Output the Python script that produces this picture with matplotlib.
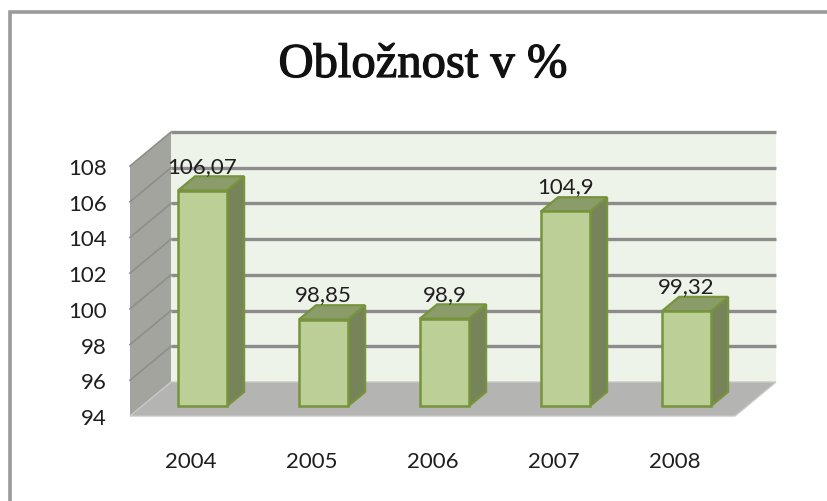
import matplotlib
matplotlib.use("Agg")
import matplotlib.pyplot as plt
from matplotlib.patches import Rectangle, Polygon
import matplotlib.patheffects as pe

# ---- data ----
years = ["2004", "2005", "2006", "2007", "2008"]
values = [106.07, 98.85, 98.9, 104.9, 99.32]
y_ticks = [94, 96, 98, 100, 102, 104, 106, 108]
title = "Obložnost v %"

W, H = 827, 502
fig = plt.figure(figsize=(W / 100, H / 100), dpi=100)
fig.patch.set_facecolor("white")

# outer frame (only left/top visible)
fig.patches.append(Rectangle((10 / W, -0.1), 1.2, (H - 13) / H + 0.1,
                             transform=fig.transFigure, fill=False,
                             edgecolor="#9a9a9a", linewidth=2.6))

fig.text(423 / W, (H - 78) / H, title, ha="center", va="baseline",
         fontsize=35, family=["Liberation Serif", "DejaVu Serif"], color="#111111",
         path_effects=[pe.withStroke(linewidth=0.9, foreground="#111111")])

# front plane of the 3D box
ax = fig.add_axes([130 / W, 85 / H, 605 / W, 250 / H])
ymin, ymax = y_ticks[0], y_ticks[-1]
ax.set_xlim(-0.5, len(years) - 0.5)
ax.set_ylim(ymin, ymax)
for s in ax.spines.values():
    s.set_visible(False)
ax.patch.set_visible(False)

# depth vector in data units
px_x = 605 / len(years)
px_y = 250 / (ymax - ymin)
DX = 41 / px_x
DY = 34 / px_y
x0, x1 = -0.5, len(years) - 0.5

def poly(pts, fc, ec="none", lw=0, z=1):
    p = Polygon(pts, closed=True, facecolor=fc, edgecolor=ec, linewidth=lw,
                zorder=z, clip_on=False, joinstyle="miter")
    ax.add_patch(p)

# back wall
poly([(x0 + DX, ymin + DY), (x1 + DX, ymin + DY), (x1 + DX, ymax + DY), (x0 + DX, ymax + DY)],
     "#eef3ea", z=1)
# left wall
poly([(x0, ymin), (x0 + DX, ymin + DY), (x0 + DX, ymax + DY), (x0, ymax)], "#a4a49f", z=1)
# floor
poly([(x0, ymin), (x1, ymin), (x1 + DX, ymin + DY), (x0 + DX, ymin + DY)], "#b4b4b2",
     ec="#c8c8c6", lw=1.0, z=2)

# gridlines
for v in y_ticks[1:]:
    ax.plot([x0 + DX, x1 + DX], [v + DY, v + DY], color="#8c8c8c", lw=2.4,
            zorder=1.5, clip_on=False, solid_capstyle="butt")
    ax.plot([x0, x0 + DX], [v, v + DY], color="#8e8e8a", lw=1.2,
            zorder=1.5, clip_on=False)

# 3D bars
f0, f1 = 0.29, 0.71
w = 49 / px_x
edge = "#77933c"
lab_font = ["Lato", "DejaVu Sans"]
for i, v in enumerate(values):
    l = i - w / 2
    r = i + w / 2
    # side face
    poly([(r + f0 * DX, ymin + f0 * DY), (r + f1 * DX, ymin + f1 * DY),
          (r + f1 * DX, v + f1 * DY), (r + f0 * DX, v + f0 * DY)],
         "#77845a", ec=edge, lw=1.6, z=3)
    # top face
    poly([(l + f0 * DX, v + f0 * DY), (r + f0 * DX, v + f0 * DY),
          (r + f1 * DX, v + f1 * DY), (l + f1 * DX, v + f1 * DY)],
         "#8a9c6a", ec=edge, lw=1.6, z=3)
    # front face
    poly([(l + f0 * DX, ymin + f0 * DY), (r + f0 * DX, ymin + f0 * DY),
          (r + f0 * DX, v + f0 * DY), (l + f0 * DX, v + f0 * DY)],
         "#bbcf97", ec=edge, lw=1.8, z=4)
    ax.annotate(str(v).replace(".", ","), (i + f0 * DX, v + f0 * DY),
                xytext=(0, 19), textcoords="offset pixels", ha="center",
                va="baseline", fontsize=16, family=lab_font,
                color="#1e1e1e", zorder=6, annotation_clip=False)

ax.set_xticks(range(len(years)))
ax.set_xticklabels(years, fontsize=16, family=lab_font, color="#1e1e1e")
ax.set_yticks(y_ticks)
ax.set_yticklabels([str(t) for t in y_ticks], fontsize=16,
                   family=lab_font, color="#1e1e1e")
ax.tick_params(axis="x", length=0, pad=25)
ax.tick_params(axis="y", length=0, pad=16.5)

fig.savefig("out.png", dpi=100, facecolor="white")
